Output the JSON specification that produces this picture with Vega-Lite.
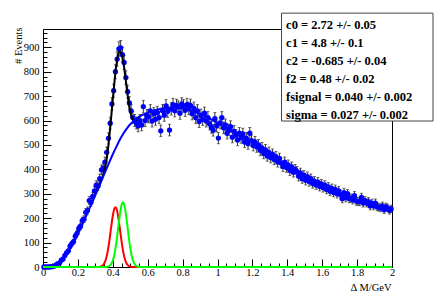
{
  "$schema": "https://vega.github.io/schema/vega-lite/v6.json",
  "width": 349,
  "height": 238,
  "autosize": {"type": "none"},
  "padding": {"left": 43, "top": 29, "right": 44, "bottom": 30},
  "background": "white",
  "config": {
    "view": {"stroke": "black", "strokeWidth": 1},
    "axis": {"grid": false, "domainColor": "black", "tickColor": "black", "labelColor": "black", "titleColor": "black", "labelFont": "Liberation Serif, Times New Roman, serif", "titleFont": "Liberation Serif, Times New Roman, serif", "titleFontWeight": "normal", "labelFontSize": 10.5, "titleFontSize": 10.5, "labelFlush": false, "labelOverlap": false}
  },
  "datasets": {
    "pts": [
      {"x":0.005,"v":0,"e":0},{"x":0.015,"v":0,"e":0},{"x":0.025,"v":0,"e":0},{"x":0.035,"v":0,"e":0},{"x":0.045,"v":1,"e":1},
      {"x":0.055,"v":2,"e":1.4},{"x":0.065,"v":4,"e":2},{"x":0.075,"v":9,"e":3},{"x":0.085,"v":14,"e":3.7},{"x":0.095,"v":17,"e":4.1},
      {"x":0.105,"v":28,"e":5.3},{"x":0.115,"v":33,"e":5.7},{"x":0.125,"v":47,"e":6.9},{"x":0.135,"v":58,"e":7.6},{"x":0.145,"v":66,"e":8.1},
      {"x":0.155,"v":85,"e":9.2},{"x":0.165,"v":96,"e":9.8},{"x":0.175,"v":104,"e":10.2},{"x":0.185,"v":126,"e":11.2},{"x":0.195,"v":138,"e":11.7},
      {"x":0.205,"v":158,"e":12.6},{"x":0.215,"v":167,"e":12.9},{"x":0.225,"v":190,"e":13.8},{"x":0.235,"v":196,"e":14},{"x":0.245,"v":224,"e":15},
      {"x":0.255,"v":231,"e":15.2},{"x":0.265,"v":272,"e":16.5},{"x":0.275,"v":265,"e":16.3},{"x":0.285,"v":289,"e":17},{"x":0.295,"v":312,"e":17.7},
      {"x":0.305,"v":335,"e":18.3},{"x":0.315,"v":331,"e":18.2},{"x":0.325,"v":362,"e":19},{"x":0.335,"v":398,"e":20},{"x":0.345,"v":405,"e":20.1},
      {"x":0.355,"v":430,"e":20.7},{"x":0.365,"v":470,"e":21.7},{"x":0.375,"v":527,"e":23},{"x":0.385,"v":589,"e":24.3},{"x":0.395,"v":668,"e":25.8},
      {"x":0.405,"v":722,"e":26.9},{"x":0.415,"v":800,"e":28.3},{"x":0.425,"v":852,"e":29.2},{"x":0.435,"v":893,"e":29.9},{"x":0.445,"v":898,"e":30},
      {"x":0.455,"v":870,"e":29.5},{"x":0.465,"v":838,"e":28.9},{"x":0.475,"v":776,"e":27.9},{"x":0.485,"v":718,"e":26.8},{"x":0.495,"v":672,"e":25.9},
      {"x":0.505,"v":640,"e":25.3},{"x":0.515,"v":612,"e":24.7},{"x":0.525,"v":600,"e":24.5},{"x":0.535,"v":590,"e":24.3},{"x":0.545,"v":578,"e":24},
      {"x":0.555,"v":600,"e":24.5},{"x":0.565,"v":582,"e":24.1},{"x":0.575,"v":657,"e":25.6},{"x":0.585,"v":600,"e":24.5},{"x":0.595,"v":620,"e":24.9},
      {"x":0.605,"v":615,"e":24.8},{"x":0.615,"v":640,"e":25.3},{"x":0.625,"v":598,"e":24.5},{"x":0.635,"v":628,"e":25.1},{"x":0.645,"v":605,"e":24.6},
      {"x":0.655,"v":633,"e":25.2},{"x":0.665,"v":612,"e":24.7},{"x":0.675,"v":558,"e":23.6},{"x":0.685,"v":640,"e":25.3},{"x":0.695,"v":622,"e":24.9},
      {"x":0.705,"v":660,"e":25.7},{"x":0.715,"v":638,"e":25.3},{"x":0.725,"v":561,"e":23.7},{"x":0.735,"v":648,"e":25.5},{"x":0.745,"v":665,"e":25.8},
      {"x":0.755,"v":640,"e":25.3},{"x":0.765,"v":662,"e":25.7},{"x":0.775,"v":655,"e":25.6},{"x":0.785,"v":630,"e":25.1},{"x":0.795,"v":668,"e":25.8},
      {"x":0.805,"v":660,"e":25.7},{"x":0.815,"v":642,"e":25.3},{"x":0.825,"v":665,"e":25.8},{"x":0.835,"v":650,"e":25.5},{"x":0.845,"v":662,"e":25.7},
      {"x":0.855,"v":628,"e":25.1},{"x":0.865,"v":650,"e":25.5},{"x":0.875,"v":612,"e":24.7},{"x":0.885,"v":640,"e":25.3},{"x":0.895,"v":596,"e":24.4},
      {"x":0.905,"v":622,"e":24.9},{"x":0.915,"v":605,"e":24.6},{"x":0.925,"v":630,"e":25.1},{"x":0.935,"v":598,"e":24.5},{"x":0.945,"v":612,"e":24.7},
      {"x":0.955,"v":586,"e":24.2},{"x":0.965,"v":572,"e":23.9},{"x":0.975,"v":560,"e":23.7},{"x":0.985,"v":608,"e":24.7},{"x":0.995,"v":578,"e":24},
      {"x":1.005,"v":528,"e":23},{"x":1.015,"v":590,"e":24.3},{"x":1.025,"v":612,"e":24.7},{"x":1.035,"v":570,"e":23.9},{"x":1.045,"v":582,"e":24.1},
      {"x":1.055,"v":548,"e":23.4},{"x":1.065,"v":562,"e":23.7},{"x":1.075,"v":575,"e":24},{"x":1.085,"v":532,"e":23.1},{"x":1.095,"v":556,"e":23.6},
      {"x":1.105,"v":540,"e":23.2},{"x":1.115,"v":520,"e":22.8},{"x":1.125,"v":548,"e":23.4},{"x":1.135,"v":530,"e":23},{"x":1.145,"v":545,"e":23.3},
      {"x":1.155,"v":512,"e":22.6},{"x":1.165,"v":528,"e":23},{"x":1.175,"v":505,"e":22.5},{"x":1.185,"v":548,"e":23.4},{"x":1.195,"v":518,"e":22.8},
      {"x":1.205,"v":498,"e":22.3},{"x":1.215,"v":512,"e":22.6},{"x":1.225,"v":492,"e":22.2},{"x":1.235,"v":500,"e":22.4},{"x":1.245,"v":478,"e":21.9},
      {"x":1.255,"v":488,"e":22.1},{"x":1.265,"v":465,"e":21.6},{"x":1.275,"v":480,"e":21.9},{"x":1.285,"v":455,"e":21.3},{"x":1.295,"v":470,"e":21.7},
      {"x":1.305,"v":448,"e":21.2},{"x":1.315,"v":462,"e":21.5},{"x":1.325,"v":440,"e":21},{"x":1.335,"v":452,"e":21.3},{"x":1.345,"v":430,"e":20.7},
      {"x":1.355,"v":445,"e":21.1},{"x":1.365,"v":426,"e":20.6},{"x":1.375,"v":412,"e":20.3},{"x":1.385,"v":430,"e":20.7},{"x":1.395,"v":408,"e":20.2},
      {"x":1.405,"v":418,"e":20.4},{"x":1.415,"v":395,"e":19.9},{"x":1.425,"v":410,"e":20.2},{"x":1.435,"v":388,"e":19.7},{"x":1.445,"v":400,"e":20},
      {"x":1.455,"v":392,"e":19.8},{"x":1.465,"v":372,"e":19.3},{"x":1.475,"v":385,"e":19.6},{"x":1.485,"v":362,"e":19},{"x":1.495,"v":376,"e":19.4},
      {"x":1.505,"v":355,"e":18.8},{"x":1.515,"v":370,"e":19.2},{"x":1.525,"v":350,"e":18.7},{"x":1.535,"v":362,"e":19},{"x":1.545,"v":342,"e":18.5},
      {"x":1.555,"v":352,"e":18.8},{"x":1.565,"v":336,"e":18.3},{"x":1.575,"v":348,"e":18.7},{"x":1.585,"v":330,"e":18.2},{"x":1.595,"v":340,"e":18.4},
      {"x":1.605,"v":325,"e":18},{"x":1.615,"v":335,"e":18.3},{"x":1.625,"v":318,"e":17.8},{"x":1.635,"v":328,"e":18.1},{"x":1.645,"v":310,"e":17.6},
      {"x":1.655,"v":322,"e":17.9},{"x":1.665,"v":305,"e":17.5},{"x":1.675,"v":318,"e":17.8},{"x":1.685,"v":300,"e":17.3},{"x":1.695,"v":312,"e":17.7},
      {"x":1.705,"v":296,"e":17.2},{"x":1.715,"v":280,"e":16.7},{"x":1.725,"v":305,"e":17.5},{"x":1.735,"v":284,"e":16.9},{"x":1.745,"v":300,"e":17.3},
      {"x":1.755,"v":280,"e":16.7},{"x":1.765,"v":282,"e":16.8},{"x":1.775,"v":275,"e":16.6},{"x":1.785,"v":292,"e":17.1},{"x":1.795,"v":270,"e":16.4},
      {"x":1.805,"v":268,"e":16.4},{"x":1.815,"v":268,"e":16.4},{"x":1.825,"v":285,"e":16.9},{"x":1.835,"v":262,"e":16.2},{"x":1.845,"v":272,"e":16.5},
      {"x":1.855,"v":262,"e":16.2},{"x":1.865,"v":268,"e":16.4},{"x":1.875,"v":250,"e":15.8},{"x":1.885,"v":262,"e":16.2},{"x":1.895,"v":250,"e":15.8},
      {"x":1.905,"v":262,"e":16.2},{"x":1.915,"v":246,"e":15.7},{"x":1.925,"v":245,"e":15.7},{"x":1.935,"v":242,"e":15.6},{"x":1.945,"v":250,"e":15.8},
      {"x":1.955,"v":235,"e":15.3},{"x":1.965,"v":246,"e":15.7},{"x":1.975,"v":242,"e":15.6},{"x":1.985,"v":232,"e":15.2},{"x":1.995,"v":238,"e":15.4}
    ],
    "curves": [
      {"s":"bg","x":0.04,"y":0},{"s":"bg","x":0.05,"y":0.5},{"s":"bg","x":0.06,"y":2},{"s":"bg","x":0.07,"y":4.5},{"s":"bg","x":0.08,"y":8},
      {"s":"bg","x":0.09,"y":12.5},{"s":"bg","x":0.1,"y":18},{"s":"bg","x":0.11,"y":26},{"s":"bg","x":0.12,"y":35},{"s":"bg","x":0.13,"y":45},
      {"s":"bg","x":0.14,"y":57},{"s":"bg","x":0.15,"y":69},{"s":"bg","x":0.16,"y":81},{"s":"bg","x":0.17,"y":94},{"s":"bg","x":0.18,"y":108},
      {"s":"bg","x":0.19,"y":122},{"s":"bg","x":0.2,"y":137},{"s":"bg","x":0.21,"y":152},{"s":"bg","x":0.22,"y":167},{"s":"bg","x":0.23,"y":182},
      {"s":"bg","x":0.24,"y":198},{"s":"bg","x":0.25,"y":214},{"s":"bg","x":0.26,"y":230},{"s":"bg","x":0.27,"y":246},{"s":"bg","x":0.28,"y":262},
      {"s":"bg","x":0.29,"y":278},{"s":"bg","x":0.3,"y":295},{"s":"bg","x":0.32,"y":328},{"s":"bg","x":0.34,"y":362},{"s":"bg","x":0.36,"y":396},
      {"s":"bg","x":0.38,"y":429},{"s":"bg","x":0.4,"y":462},{"s":"bg","x":0.42,"y":492},{"s":"bg","x":0.44,"y":521},{"s":"bg","x":0.46,"y":546},
      {"s":"bg","x":0.48,"y":567},{"s":"bg","x":0.5,"y":585},{"s":"bg","x":0.52,"y":598},{"s":"bg","x":0.54,"y":610},{"s":"bg","x":0.56,"y":619},
      {"s":"bg","x":0.58,"y":626},{"s":"bg","x":0.6,"y":632},{"s":"bg","x":0.65,"y":644},{"s":"bg","x":0.7,"y":651},{"s":"bg","x":0.75,"y":653},
      {"s":"bg","x":0.8,"y":649},{"s":"bg","x":0.85,"y":640},{"s":"bg","x":0.9,"y":627},{"s":"bg","x":0.95,"y":610},{"s":"bg","x":1.0,"y":590},
      {"s":"bg","x":1.05,"y":571},{"s":"bg","x":1.1,"y":551},{"s":"bg","x":1.15,"y":530},{"s":"bg","x":1.2,"y":508},{"s":"bg","x":1.25,"y":484},
      {"s":"bg","x":1.3,"y":459},{"s":"bg","x":1.35,"y":434},{"s":"bg","x":1.4,"y":410},{"s":"bg","x":1.45,"y":388},{"s":"bg","x":1.5,"y":367},
      {"s":"bg","x":1.55,"y":348},{"s":"bg","x":1.6,"y":330},{"s":"bg","x":1.65,"y":314},{"s":"bg","x":1.7,"y":300},{"s":"bg","x":1.75,"y":287},
      {"s":"bg","x":1.8,"y":276},{"s":"bg","x":1.85,"y":265},{"s":"bg","x":1.9,"y":254},{"s":"bg","x":1.95,"y":244},{"s":"bg","x":2.0,"y":234},
      {"s":"tot","x":0.3,"y":300},{"s":"tot","x":0.32,"y":331},{"s":"tot","x":0.34,"y":366},{"s":"tot","x":0.35,"y":390},{"s":"tot","x":0.36,"y":422},
      {"s":"tot","x":0.37,"y":468},{"s":"tot","x":0.38,"y":532},{"s":"tot","x":0.39,"y":608},{"s":"tot","x":0.4,"y":688},{"s":"tot","x":0.41,"y":762},
      {"s":"tot","x":0.42,"y":826},{"s":"tot","x":0.43,"y":868},{"s":"tot","x":0.44,"y":885},{"s":"tot","x":0.45,"y":873},{"s":"tot","x":0.46,"y":840},
      {"s":"tot","x":0.47,"y":790},{"s":"tot","x":0.48,"y":732},{"s":"tot","x":0.49,"y":678},{"s":"tot","x":0.5,"y":636},{"s":"tot","x":0.51,"y":612},
      {"s":"tot","x":0.52,"y":602},{"s":"tot","x":0.53,"y":603},{"s":"tot","x":0.54,"y":609},{"s":"tot","x":0.55,"y":614},{"s":"tot","x":0.56,"y":619},
      {"s":"r","x":0,"y":0},{"s":"r","x":0.3,"y":0},{"s":"r","x":0.31,"y":0.1},{"s":"r","x":0.32,"y":0.5},{"s":"r","x":0.33,"y":1.7},
      {"s":"r","x":0.34,"y":5.2},{"s":"r","x":0.35,"y":13.5},{"s":"r","x":0.36,"y":30.8},{"s":"r","x":0.37,"y":61},{"s":"r","x":0.38,"y":106},
      {"s":"r","x":0.39,"y":160},{"s":"r","x":0.4,"y":210},{"s":"r","x":0.41,"y":241},{"s":"r","x":0.415,"y":245},{"s":"r","x":0.42,"y":241},
      {"s":"r","x":0.43,"y":210},{"s":"r","x":0.44,"y":160},{"s":"r","x":0.45,"y":106},{"s":"r","x":0.46,"y":61},{"s":"r","x":0.47,"y":30.8},
      {"s":"r","x":0.48,"y":13.5},{"s":"r","x":0.49,"y":5.2},{"s":"r","x":0.5,"y":1.7},{"s":"r","x":0.51,"y":0.5},{"s":"r","x":0.52,"y":0.1},
      {"s":"r","x":0.53,"y":0},{"s":"r","x":2.0,"y":0},
      {"s":"g","x":0,"y":0},{"s":"g","x":0.34,"y":0},{"s":"g","x":0.35,"y":0.1},{"s":"g","x":0.36,"y":0.4},{"s":"g","x":0.37,"y":1.3},
      {"s":"g","x":0.38,"y":4.1},{"s":"g","x":0.39,"y":11},{"s":"g","x":0.4,"y":26},{"s":"g","x":0.41,"y":55},{"s":"g","x":0.42,"y":98},
      {"s":"g","x":0.43,"y":155},{"s":"g","x":0.44,"y":212},{"s":"g","x":0.45,"y":254},{"s":"g","x":0.458,"y":265},{"s":"g","x":0.46,"y":264},
      {"s":"g","x":0.47,"y":240},{"s":"g","x":0.48,"y":190},{"s":"g","x":0.49,"y":131},{"s":"g","x":0.5,"y":79},{"s":"g","x":0.51,"y":41},
      {"s":"g","x":0.52,"y":19},{"s":"g","x":0.53,"y":7.6},{"s":"g","x":0.54,"y":2.6},{"s":"g","x":0.55,"y":0.8},{"s":"g","x":0.56,"y":0.2},
      {"s":"g","x":0.57,"y":0},{"s":"g","x":2.0,"y":0}
    ],
    "box": [{"x1":1.367,"x2":2.235,"y1":598,"y2":1040}],
    "stats": [
      {"x":1.393,"y":991,"t":"c0 =  2.72 +/- 0.05"},
      {"x":1.393,"y":916,"t":"c1 =  4.8 +/- 0.1"},
      {"x":1.393,"y":844,"t":"c2 = -0.685 +/- 0.04"},
      {"x":1.393,"y":770,"t":"f2 =  0.48 +/- 0.02"},
      {"x":1.393,"y":696,"t":"fsignal =  0.040 +/- 0.002"},
      {"x":1.393,"y":621,"t":"sigma =  0.027 +/- 0.002"}
    ]
  },
  "layer": [
    {
      "data": {"name": "pts"},
      "mark": {"type": "errorbar", "color": "#333333", "thickness": 1, "ticks": {"size": 3, "color": "#333333"}},
      "encoding": {
        "x": {"field": "x", "type": "quantitative", "scale": {"domain": [0, 2], "nice": false, "zero": false},
          "axis": {"title": "Δ M/GeV", "values": [0,0.05,0.1,0.15,0.2,0.25,0.3,0.35,0.4,0.45,0.5,0.55,0.6,0.65,0.7,0.75,0.8,0.85,0.9,0.95,1,1.05,1.1,1.15,1.2,1.25,1.3,1.35,1.4,1.45,1.5,1.55,1.6,1.65,1.7,1.75,1.8,1.85,1.9,1.95,2], "format": "~g", "labelExpr": "abs(datum.value*5-round(datum.value*5))<0.001 ? datum.label : ''", "tickSize": {"condition": {"test": "abs(datum.value*5-round(datum.value*5))<0.001", "value": -8}, "value": -4}, "labelPadding": 8, "titleAnchor": "end", "titleAlign": "right", "titleBaseline": "middle", "titleX": 348, "titleY": 20}},
        "y": {"field": "v", "type": "quantitative", "scale": {"domain": [0, 975], "nice": false, "zero": false},
          "axis": {"title": "# Events", "values": [0,20,40,60,80,100,120,140,160,180,200,220,240,260,280,300,320,340,360,380,400,420,440,460,480,500,520,540,560,580,600,620,640,660,680,700,720,740,760,780,800,820,840,860,880,900,920,940,960], "format": "d", "labelExpr": "datum.value % 100 == 0 ? datum.label : ''", "tickSize": {"condition": {"test": "datum.value % 100 == 0", "value": -8}, "value": -4}, "labelPadding": 12, "titleAngle": -90, "titleAnchor": "end", "titleAlign": "right", "titleBaseline": "middle", "titleX": -25, "titleY": -2}},
        "yError": {"field": "e"}
      }
    },
    {
      "data": {"name": "pts"},
      "mark": {"type": "circle", "size": 28, "color": "#0000ff", "opacity": 1},
      "encoding": {
        "x": {"field": "x", "type": "quantitative", "scale": {"domain": [0, 2], "nice": false, "zero": false},
          "axis": {"title": "Δ M/GeV", "values": [0,0.05,0.1,0.15,0.2,0.25,0.3,0.35,0.4,0.45,0.5,0.55,0.6,0.65,0.7,0.75,0.8,0.85,0.9,0.95,1,1.05,1.1,1.15,1.2,1.25,1.3,1.35,1.4,1.45,1.5,1.55,1.6,1.65,1.7,1.75,1.8,1.85,1.9,1.95,2], "format": "~g", "labelExpr": "abs(datum.value*5-round(datum.value*5))<0.001 ? datum.label : ''", "tickSize": {"condition": {"test": "abs(datum.value*5-round(datum.value*5))<0.001", "value": -8}, "value": -4}, "labelPadding": 8, "titleAnchor": "end", "titleAlign": "right", "titleBaseline": "middle", "titleX": 348, "titleY": 20}},
        "y": {"field": "v", "type": "quantitative", "scale": {"domain": [0, 975], "nice": false, "zero": false},
          "axis": {"title": "# Events", "values": [0,20,40,60,80,100,120,140,160,180,200,220,240,260,280,300,320,340,360,380,400,420,440,460,480,500,520,540,560,580,600,620,640,660,680,700,720,740,760,780,800,820,840,860,880,900,920,940,960], "format": "d", "labelExpr": "datum.value % 100 == 0 ? datum.label : ''", "tickSize": {"condition": {"test": "datum.value % 100 == 0", "value": -8}, "value": -4}, "labelPadding": 12, "titleAngle": -90, "titleAnchor": "end", "titleAlign": "right", "titleBaseline": "middle", "titleX": -25, "titleY": -2}}
      }
    },
    {
      "data": {"name": "curves"},
      "transform": [{"filter": "datum.s == 'tot'"}],
      "mark": {"type": "line", "color": "#000000", "strokeWidth": 2, "interpolate": "monotone"},
      "encoding": {
        "x": {"field": "x", "type": "quantitative", "scale": {"domain": [0, 2], "nice": false, "zero": false},
          "axis": {"title": "Δ M/GeV", "values": [0,0.05,0.1,0.15,0.2,0.25,0.3,0.35,0.4,0.45,0.5,0.55,0.6,0.65,0.7,0.75,0.8,0.85,0.9,0.95,1,1.05,1.1,1.15,1.2,1.25,1.3,1.35,1.4,1.45,1.5,1.55,1.6,1.65,1.7,1.75,1.8,1.85,1.9,1.95,2], "format": "~g", "labelExpr": "abs(datum.value*5-round(datum.value*5))<0.001 ? datum.label : ''", "tickSize": {"condition": {"test": "abs(datum.value*5-round(datum.value*5))<0.001", "value": -8}, "value": -4}, "labelPadding": 8, "titleAnchor": "end", "titleAlign": "right", "titleBaseline": "middle", "titleX": 348, "titleY": 20}},
        "y": {"field": "y", "type": "quantitative", "scale": {"domain": [0, 975], "nice": false, "zero": false},
          "axis": {"title": "# Events", "values": [0,20,40,60,80,100,120,140,160,180,200,220,240,260,280,300,320,340,360,380,400,420,440,460,480,500,520,540,560,580,600,620,640,660,680,700,720,740,760,780,800,820,840,860,880,900,920,940,960], "format": "d", "labelExpr": "datum.value % 100 == 0 ? datum.label : ''", "tickSize": {"condition": {"test": "datum.value % 100 == 0", "value": -8}, "value": -4}, "labelPadding": 12, "titleAngle": -90, "titleAnchor": "end", "titleAlign": "right", "titleBaseline": "middle", "titleX": -25, "titleY": -2}}
      }
    },
    {
      "data": {"name": "curves"},
      "transform": [{"filter": "datum.s == 'bg'"}],
      "mark": {"type": "line", "color": "#0000ff", "strokeWidth": 2, "interpolate": "monotone"},
      "encoding": {
        "x": {"field": "x", "type": "quantitative", "scale": {"domain": [0, 2], "nice": false, "zero": false},
          "axis": {"title": "Δ M/GeV", "values": [0,0.05,0.1,0.15,0.2,0.25,0.3,0.35,0.4,0.45,0.5,0.55,0.6,0.65,0.7,0.75,0.8,0.85,0.9,0.95,1,1.05,1.1,1.15,1.2,1.25,1.3,1.35,1.4,1.45,1.5,1.55,1.6,1.65,1.7,1.75,1.8,1.85,1.9,1.95,2], "format": "~g", "labelExpr": "abs(datum.value*5-round(datum.value*5))<0.001 ? datum.label : ''", "tickSize": {"condition": {"test": "abs(datum.value*5-round(datum.value*5))<0.001", "value": -8}, "value": -4}, "labelPadding": 8, "titleAnchor": "end", "titleAlign": "right", "titleBaseline": "middle", "titleX": 348, "titleY": 20}},
        "y": {"field": "y", "type": "quantitative", "scale": {"domain": [0, 975], "nice": false, "zero": false},
          "axis": {"title": "# Events", "values": [0,20,40,60,80,100,120,140,160,180,200,220,240,260,280,300,320,340,360,380,400,420,440,460,480,500,520,540,560,580,600,620,640,660,680,700,720,740,760,780,800,820,840,860,880,900,920,940,960], "format": "d", "labelExpr": "datum.value % 100 == 0 ? datum.label : ''", "tickSize": {"condition": {"test": "datum.value % 100 == 0", "value": -8}, "value": -4}, "labelPadding": 12, "titleAngle": -90, "titleAnchor": "end", "titleAlign": "right", "titleBaseline": "middle", "titleX": -25, "titleY": -2}}
      }
    },
    {
      "data": {"name": "curves"},
      "transform": [{"filter": "datum.s == 'r'"}],
      "mark": {"type": "line", "color": "#ff0000", "strokeWidth": 2, "interpolate": "monotone"},
      "encoding": {
        "x": {"field": "x", "type": "quantitative", "scale": {"domain": [0, 2], "nice": false, "zero": false},
          "axis": {"title": "Δ M/GeV", "values": [0,0.05,0.1,0.15,0.2,0.25,0.3,0.35,0.4,0.45,0.5,0.55,0.6,0.65,0.7,0.75,0.8,0.85,0.9,0.95,1,1.05,1.1,1.15,1.2,1.25,1.3,1.35,1.4,1.45,1.5,1.55,1.6,1.65,1.7,1.75,1.8,1.85,1.9,1.95,2], "format": "~g", "labelExpr": "abs(datum.value*5-round(datum.value*5))<0.001 ? datum.label : ''", "tickSize": {"condition": {"test": "abs(datum.value*5-round(datum.value*5))<0.001", "value": -8}, "value": -4}, "labelPadding": 8, "titleAnchor": "end", "titleAlign": "right", "titleBaseline": "middle", "titleX": 348, "titleY": 20}},
        "y": {"field": "y", "type": "quantitative", "scale": {"domain": [0, 975], "nice": false, "zero": false},
          "axis": {"title": "# Events", "values": [0,20,40,60,80,100,120,140,160,180,200,220,240,260,280,300,320,340,360,380,400,420,440,460,480,500,520,540,560,580,600,620,640,660,680,700,720,740,760,780,800,820,840,860,880,900,920,940,960], "format": "d", "labelExpr": "datum.value % 100 == 0 ? datum.label : ''", "tickSize": {"condition": {"test": "datum.value % 100 == 0", "value": -8}, "value": -4}, "labelPadding": 12, "titleAngle": -90, "titleAnchor": "end", "titleAlign": "right", "titleBaseline": "middle", "titleX": -25, "titleY": -2}}
      }
    },
    {
      "data": {"name": "curves"},
      "transform": [{"filter": "datum.s == 'g'"}],
      "mark": {"type": "line", "color": "#00ff00", "strokeWidth": 2, "interpolate": "monotone"},
      "encoding": {
        "x": {"field": "x", "type": "quantitative", "scale": {"domain": [0, 2], "nice": false, "zero": false},
          "axis": {"title": "Δ M/GeV", "values": [0,0.05,0.1,0.15,0.2,0.25,0.3,0.35,0.4,0.45,0.5,0.55,0.6,0.65,0.7,0.75,0.8,0.85,0.9,0.95,1,1.05,1.1,1.15,1.2,1.25,1.3,1.35,1.4,1.45,1.5,1.55,1.6,1.65,1.7,1.75,1.8,1.85,1.9,1.95,2], "format": "~g", "labelExpr": "abs(datum.value*5-round(datum.value*5))<0.001 ? datum.label : ''", "tickSize": {"condition": {"test": "abs(datum.value*5-round(datum.value*5))<0.001", "value": -8}, "value": -4}, "labelPadding": 8, "titleAnchor": "end", "titleAlign": "right", "titleBaseline": "middle", "titleX": 348, "titleY": 20}},
        "y": {"field": "y", "type": "quantitative", "scale": {"domain": [0, 975], "nice": false, "zero": false},
          "axis": {"title": "# Events", "values": [0,20,40,60,80,100,120,140,160,180,200,220,240,260,280,300,320,340,360,380,400,420,440,460,480,500,520,540,560,580,600,620,640,660,680,700,720,740,760,780,800,820,840,860,880,900,920,940,960], "format": "d", "labelExpr": "datum.value % 100 == 0 ? datum.label : ''", "tickSize": {"condition": {"test": "datum.value % 100 == 0", "value": -8}, "value": -4}, "labelPadding": 12, "titleAngle": -90, "titleAnchor": "end", "titleAlign": "right", "titleBaseline": "middle", "titleX": -25, "titleY": -2}}
      }
    },
    {
      "data": {"name": "box"},
      "mark": {"type": "rect", "fill": "white", "stroke": "#444444", "strokeWidth": 1},
      "encoding": {
        "x": {"field": "x1", "type": "quantitative", "scale": {"domain": [0, 2], "nice": false, "zero": false},
          "axis": {"title": "Δ M/GeV", "values": [0,0.05,0.1,0.15,0.2,0.25,0.3,0.35,0.4,0.45,0.5,0.55,0.6,0.65,0.7,0.75,0.8,0.85,0.9,0.95,1,1.05,1.1,1.15,1.2,1.25,1.3,1.35,1.4,1.45,1.5,1.55,1.6,1.65,1.7,1.75,1.8,1.85,1.9,1.95,2], "format": "~g", "labelExpr": "abs(datum.value*5-round(datum.value*5))<0.001 ? datum.label : ''", "tickSize": {"condition": {"test": "abs(datum.value*5-round(datum.value*5))<0.001", "value": -8}, "value": -4}, "labelPadding": 8, "titleAnchor": "end", "titleAlign": "right", "titleBaseline": "middle", "titleX": 348, "titleY": 20}},
        "x2": {"field": "x2"},
        "y": {"field": "y1", "type": "quantitative", "scale": {"domain": [0, 975], "nice": false, "zero": false},
          "axis": {"title": "# Events", "values": [0,20,40,60,80,100,120,140,160,180,200,220,240,260,280,300,320,340,360,380,400,420,440,460,480,500,520,540,560,580,600,620,640,660,680,700,720,740,760,780,800,820,840,860,880,900,920,940,960], "format": "d", "labelExpr": "datum.value % 100 == 0 ? datum.label : ''", "tickSize": {"condition": {"test": "datum.value % 100 == 0", "value": -8}, "value": -4}, "labelPadding": 12, "titleAngle": -90, "titleAnchor": "end", "titleAlign": "right", "titleBaseline": "middle", "titleX": -25, "titleY": -2}},
        "y2": {"field": "y2"}
      }
    },
    {
      "data": {"name": "stats"},
      "mark": {"type": "text", "align": "left", "baseline": "middle", "font": "Liberation Serif, Times New Roman, serif", "fontWeight": "bold", "fontSize": 12.5, "color": "black"},
      "encoding": {
        "x": {"field": "x", "type": "quantitative", "scale": {"domain": [0, 2], "nice": false, "zero": false},
          "axis": {"title": "Δ M/GeV", "values": [0,0.05,0.1,0.15,0.2,0.25,0.3,0.35,0.4,0.45,0.5,0.55,0.6,0.65,0.7,0.75,0.8,0.85,0.9,0.95,1,1.05,1.1,1.15,1.2,1.25,1.3,1.35,1.4,1.45,1.5,1.55,1.6,1.65,1.7,1.75,1.8,1.85,1.9,1.95,2], "format": "~g", "labelExpr": "abs(datum.value*5-round(datum.value*5))<0.001 ? datum.label : ''", "tickSize": {"condition": {"test": "abs(datum.value*5-round(datum.value*5))<0.001", "value": -8}, "value": -4}, "labelPadding": 8, "titleAnchor": "end", "titleAlign": "right", "titleBaseline": "middle", "titleX": 348, "titleY": 20}},
        "y": {"field": "y", "type": "quantitative", "scale": {"domain": [0, 975], "nice": false, "zero": false},
          "axis": {"title": "# Events", "values": [0,20,40,60,80,100,120,140,160,180,200,220,240,260,280,300,320,340,360,380,400,420,440,460,480,500,520,540,560,580,600,620,640,660,680,700,720,740,760,780,800,820,840,860,880,900,920,940,960], "format": "d", "labelExpr": "datum.value % 100 == 0 ? datum.label : ''", "tickSize": {"condition": {"test": "datum.value % 100 == 0", "value": -8}, "value": -4}, "labelPadding": 12, "titleAngle": -90, "titleAnchor": "end", "titleAlign": "right", "titleBaseline": "middle", "titleX": -25, "titleY": -2}},
        "text": {"field": "t"}
      }
    }
  ]
}
